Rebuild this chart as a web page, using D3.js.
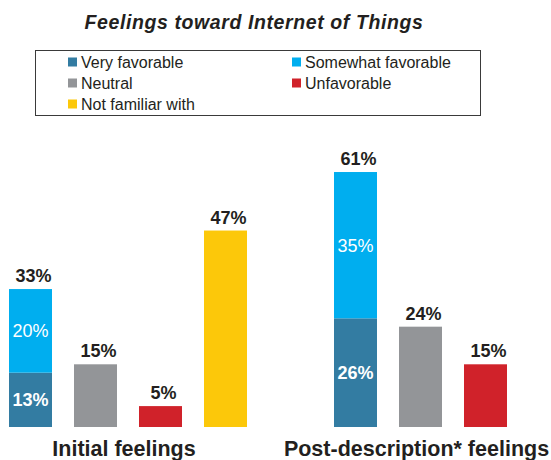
<!DOCTYPE html>
<html><head><meta charset="utf-8">
<script src="https://cdn.jsdelivr.net/npm/d3@7"></script>
<style>
html,body{margin:0;padding:0;background:#fff;}
svg{display:block;font-family:"Liberation Sans",Arial,sans-serif;}
</style></head><body>
<svg id="chart" width="551" height="460"></svg>
<script>
// ---- data ----
const groups = ["Initial feelings", "Post-description* feelings"];
const categories = ["Favorable", "Neutral", "Unfavorable", "Not familiar with"];
const veryFavorable = [13, 26];
const somewhatFavorable = [20, 35];
const neutral = [15, 24];
const unfavorable = [5, 15];
const notFamiliar = [47, null];
const legendLabels = ["Very favorable", "Somewhat favorable", "Neutral", "Unfavorable", "Not familiar with"];
const colors = ["#337ca2", "#00aeef", "#939598", "#d0222a", "#fcc80a"];
const title = "Feelings toward Internet of Things";

const svg = d3.select("#chart");

// title
svg.append("text").attr("x", 254).attr("y", 28.5)
  .attr("text-anchor", "middle")
  .style("font-size", "19.5px").style("font-weight", "bold").style("font-style", "italic")
  .style("letter-spacing", "0.6px")
  .attr("fill", "#231f20").text(title);

// legend
svg.append("rect").attr("x", 35.5).attr("y", 50.5).attr("width", 445).attr("height", 65)
  .attr("fill", "none").attr("stroke", "#3a3a3a").attr("stroke-width", 1);
const legPos = [[68, 62], [292, 62], [68, 83], [292, 83], [68, 104]];
legendLabels.forEach((l, i) => {
  const g = svg.append("g").attr("transform", `translate(${legPos[i][0]},${legPos[i][1]})`);
  g.append("rect").attr("x", 0).attr("y", -4.5).attr("width", 9).attr("height", 9).attr("fill", colors[i]);
  g.append("text").attr("x", 13).attr("y", 5.5).style("font-size", "16px").attr("fill", "#231f20").text(l);
});

// scales
const slots = [];
groups.forEach((g, gi) => categories.forEach(c => slots.push(g + "|" + c)));
const slotDomain = slots.slice(0, 4).concat(["gap"], slots.slice(4));
const x = d3.scaleBand().domain(slotDomain).range([9, 9 + 8 * 65 + 43]).paddingInner(22 / 65).paddingOuter(0);
const y = d3.scaleLinear().domain([0, 100]).range([427, 427 - 418]);

// build bar segments
const segs = [];
groups.forEach((g, gi) => {
  segs.push({slot: g + "|Favorable", y0: 0, y1: veryFavorable[gi], c: colors[0], inner: veryFavorable[gi], bold: true});
  segs.push({slot: g + "|Favorable", y0: veryFavorable[gi], y1: veryFavorable[gi] + somewhatFavorable[gi], c: colors[1], inner: somewhatFavorable[gi], bold: false, total: veryFavorable[gi] + somewhatFavorable[gi]});
  segs.push({slot: g + "|Neutral", y0: 0, y1: neutral[gi], c: colors[2], total: neutral[gi]});
  segs.push({slot: g + "|Unfavorable", y0: 0, y1: unfavorable[gi], c: colors[3], total: unfavorable[gi]});
  if (notFamiliar[gi] != null) segs.push({slot: g + "|Not familiar with", y0: 0, y1: notFamiliar[gi], c: colors[4], total: notFamiliar[gi]});
});

svg.selectAll("rect.bar").data(segs).join("rect").attr("class", "bar")
  .attr("x", d => x(d.slot)).attr("width", x.bandwidth())
  .attr("y", d => y(d.y1)).attr("height", d => y(d.y0) - y(d.y1))
  .attr("fill", d => d.c);

// inner labels
svg.selectAll("text.inner").data(segs.filter(d => d.inner != null)).join("text").attr("class", "inner")
  .attr("x", d => x(d.slot) + x.bandwidth() / 2)
  .attr("y", d => (y(d.y0) + y(d.y1)) / 2 + 6.5)
  .attr("text-anchor", "middle").attr("fill", "#fff")
  .style("font-size", "18px").style("font-weight", d => d.bold ? "bold" : "normal")
  .text(d => d.inner + "%");

// total labels
svg.selectAll("text.total").data(segs.filter(d => d.total != null)).join("text").attr("class", "total")
  .attr("x", d => x(d.slot) + x.bandwidth() / 2 + 3)
  .attr("y", d => y(d.y1) - 7)
  .attr("text-anchor", "middle").attr("fill", "#231f20")
  .style("font-size", "18px").style("font-weight", "bold")
  .text(d => d.total + "%");

// group labels
const groupCenters = groups.map((g, gi) => {
  const a = x(g + "|Favorable");
  const b = gi === 0 ? x(g + "|Not familiar with") + x.bandwidth() : x(g + "|Unfavorable") + x.bandwidth();
  return (a + b) / 2 - 4;
});
svg.selectAll("text.group").data(groups).join("text").attr("class", "group")
  .attr("x", (d, i) => groupCenters[i]).attr("y", 455.5)
  .attr("text-anchor", "middle").attr("fill", "#231f20")
  .style("font-size", "21.5px").style("font-weight", "bold")
  .text(d => d);
</script>
</body></html>
